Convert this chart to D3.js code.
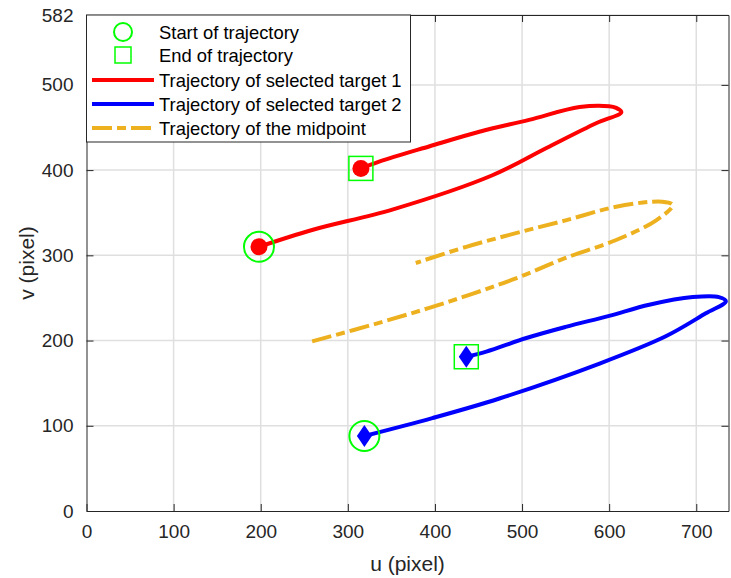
<!DOCTYPE html>
<html>
<head>
<meta charset="utf-8">
<script src="https://cdn.jsdelivr.net/npm/d3@7"></script>
<style>
  body { margin: 0; background: #fff; }
  svg { display: block; font-family: "Liberation Sans", Arial, Helvetica, sans-serif; }
</style>
</head>
<body>
<div id="chart"></div>
<script>
// Trajectories (image coordinates, pixel)
var redU = [198, 260, 352, 466, 528, 585, 614, 608, 600, 566, 508, 451, 394, 336, 315];
var redV = [310, 330, 354, 394, 426, 455, 468, 473, 475, 474, 459, 445, 428, 410, 402];

var blueU = [319, 397, 474, 589, 665, 711, 734, 726, 696, 646, 600, 550, 505, 459, 436];
var blueV = [88, 109, 132, 173, 205, 232, 246, 251, 251, 242, 229, 216, 203, 187, 181];

var midU = [259, 340, 417, 493, 550, 608, 654, 673, 661, 608, 550, 493, 436, 378];
var midV = [199, 222, 246, 273, 297, 318, 341, 359, 363, 357, 341, 326, 310, 291];

var xTicks = [0, 100, 200, 300, 400, 500, 600, 700];
var yTicks = [0, 100, 200, 300, 400, 500, 582];

var legendLabels = [
    "Start of trajectory",
    "End of trajectory",
    "Trajectory of selected target 1",
    "Trajectory of selected target 2",
    "Trajectory of the midpoint"
];

var width = 731, height = 578;
var margin = {top: 15, right: 2.5, bottom: 67, left: 86.5};
var axisColor = "#262626", gridColor = "#dfdfdf";
var green = "#00ff00", red = "#ff0000", blue = "#0000ff", yellow = "#edb120";

var svg = d3.select("#chart").append("svg")
    .attr("width", width)
    .attr("height", height);

var x = d3.scaleLinear().domain([0, 737]).range([margin.left, width - margin.right]);
var y = d3.scaleLinear().domain([0, 582]).range([height - margin.bottom, margin.top]);

var x0 = x.range()[0], x1 = x.range()[1], y0 = y.range()[0], y1 = y.range()[1];

// grid lines
var grid = svg.append("g").attr("class", "grid")
    .attr("stroke", gridColor).attr("stroke-width", 1.5);
grid.selectAll(".gx").data(xTicks.slice(1)).enter().append("line")
    .attr("x1", function (d) { return x(d); }).attr("x2", function (d) { return x(d); })
    .attr("y1", y0).attr("y2", y1);
grid.selectAll(".gy").data(yTicks.slice(1)).enter().append("line")
    .attr("y1", function (d) { return y(d); }).attr("y2", function (d) { return y(d); })
    .attr("x1", x0).attr("x2", x1);

// axes with inward ticks, box on all sides
var tickLen = 7;
var xAxis = d3.axisBottom(x).tickValues(xTicks).tickSizeInner(-tickLen).tickSizeOuter(0).tickPadding(14);
var yAxis = d3.axisLeft(y).tickValues(yTicks).tickSizeInner(-tickLen).tickSizeOuter(0).tickPadding(13);
var xTop = d3.axisTop(x).tickValues(xTicks).tickSizeInner(-tickLen).tickSizeOuter(0).tickFormat("");
var yRight = d3.axisRight(y).tickValues(yTicks).tickSizeInner(-tickLen).tickSizeOuter(0).tickFormat("");

function styleAxis(g) {
    g.selectAll("path, line").attr("stroke", axisColor).attr("stroke-width", 1);
    g.selectAll("text").attr("fill", axisColor).style("font-size", "19px")
        .style("font-family", "'Liberation Sans', Arial, sans-serif");
}

svg.append("g").attr("transform", "translate(0," + y0 + ")").call(xAxis).call(styleAxis);
svg.append("g").attr("transform", "translate(" + x0 + ",0)").call(yAxis).call(styleAxis);
svg.append("g").attr("transform", "translate(0," + y1 + ")").call(xTop).call(styleAxis);
svg.append("g").attr("transform", "translate(" + x1 + ",0)").call(yRight).call(styleAxis);

// axis labels
svg.append("text")
    .attr("x", (x0 + x1) / 2).attr("y", 571)
    .attr("text-anchor", "middle").attr("fill", axisColor)
    .style("font-size", "21px").text("u (pixel)");
svg.append("text")
    .attr("transform", "translate(34," + (y0 + y1) / 2 + ") rotate(-90)")
    .attr("text-anchor", "middle").attr("fill", axisColor)
    .style("font-size", "21px").text("v (pixel)");

// trajectories
function toPoints(us, vs) {
    return us.map(function (u, i) { return [u, vs[i]]; });
}
var line = d3.line()
    .x(function (d) { return x(d[0]); })
    .y(function (d) { return y(d[1]); })
    .curve(d3.curveCatmullRom.alpha(0.5));

var redPts = toPoints(redU, redV), bluePts = toPoints(blueU, blueV), midPts = toPoints(midU, midV);
var plot = svg.append("g").attr("class", "plot");

plot.append("path").datum(redPts).attr("d", line)
    .attr("fill", "none").attr("stroke", red).attr("stroke-width", 4).attr("stroke-linejoin", "round");
plot.append("path").datum(bluePts).attr("d", line)
    .attr("fill", "none").attr("stroke", blue).attr("stroke-width", 4).attr("stroke-linejoin", "round");
plot.append("path").datum(midPts).attr("d", line)
    .attr("fill", "none").attr("stroke", yellow).attr("stroke-width", 4)
    .attr("stroke-dasharray", "20,5,9,5");

// target markers at both ends
var diamond = function (cx, cy) {
    return "M" + cx + "," + (cy - 11) + "L" + (cx + 7.5) + "," + cy +
        "L" + cx + "," + (cy + 11) + "L" + (cx - 7.5) + "," + cy + "Z";
};
[redPts[0], redPts[redPts.length - 1]].forEach(function (p) {
    plot.append("circle").attr("cx", x(p[0])).attr("cy", y(p[1])).attr("r", 8.5).attr("fill", red);
});
[bluePts[0], bluePts[bluePts.length - 1]].forEach(function (p) {
    plot.append("path").attr("d", diamond(x(p[0]), y(p[1]))).attr("fill", blue);
});

// start (circle) / end (square) markers
[redPts[0], bluePts[0]].forEach(function (p) {
    plot.append("circle").attr("cx", x(p[0])).attr("cy", y(p[1])).attr("r", 15)
        .attr("fill", "none").attr("stroke", green).attr("stroke-width", 2);
});
[redPts[redPts.length - 1], bluePts[bluePts.length - 1]].forEach(function (p) {
    plot.append("rect").attr("x", x(p[0]) - 12).attr("y", y(p[1]) - 12)
        .attr("width", 24).attr("height", 24)
        .attr("fill", "none").attr("stroke", green).attr("stroke-width", 1.5);
});

// legend
var lg = svg.append("g").attr("class", "legend");
lg.append("rect").attr("x", x0).attr("y", y1).attr("width", 324).attr("height", 127)
    .attr("fill", "#fff").attr("stroke", axisColor).attr("stroke-width", 1);
var rowY = [32, 55, 80, 104, 128];
var sx0 = 92, sx1 = 154, sxm = 123;
lg.append("circle").attr("cx", sxm).attr("cy", rowY[0]).attr("r", 9)
    .attr("fill", "none").attr("stroke", green).attr("stroke-width", 2);
lg.append("rect").attr("x", sxm - 8).attr("y", rowY[1] - 8).attr("width", 16).attr("height", 16)
    .attr("fill", "none").attr("stroke", green).attr("stroke-width", 1.5);
lg.append("line").attr("x1", sx0).attr("x2", sx1).attr("y1", rowY[2]).attr("y2", rowY[2])
    .attr("stroke", red).attr("stroke-width", 4);
lg.append("line").attr("x1", sx0).attr("x2", sx1).attr("y1", rowY[3]).attr("y2", rowY[3])
    .attr("stroke", blue).attr("stroke-width", 4);
lg.append("line").attr("x1", sx0).attr("x2", sx1).attr("y1", rowY[4]).attr("y2", rowY[4])
    .attr("stroke", yellow).attr("stroke-width", 4).attr("stroke-dasharray", "20,5,9,5");
lg.selectAll("text.lab").data(legendLabels).enter().append("text")
    .attr("class", "lab")
    .attr("x", 159).attr("y", function (d, i) { return rowY[i] + 6.5; })
    .attr("fill", "#000").style("font-size", "18.4px")
    .text(function (d) { return d; });
</script>
</body>
</html>
